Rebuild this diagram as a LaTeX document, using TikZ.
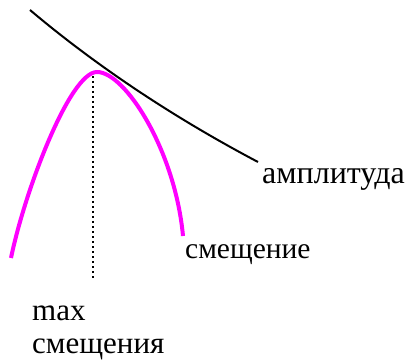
\documentclass[tikz,border=0pt]{standalone}
\usepackage{fontspec}
\setmainfont{LiberationSerif}[Extension=.ttf,UprightFont=*-Regular]
\definecolor{crvmag}{RGB}{255,0,255}

\begin{document}
\begin{tikzpicture}[
 x=1pt,y=-1pt,
 lbl/.style={anchor=base west,inner sep=0pt,font=\fontsize{31}{37}\selectfont},
 ampl/.style={line width=2pt,draw=black},
 disp/.style={line width=4pt,draw=crvmag},
 guide/.style={line width=1.7pt,dash pattern=on 1.7pt off 3.3pt}
]
\useasboundingbox (0,0) rectangle (406,363);
\coordinate (peak) at (93,76);
\coordinate (foot) at (93,278);
% amplitude envelope
\draw[ampl] (30,10) .. controls (75,48) and (150,105) .. (258,162);
% displacement
\draw[disp] (11,258) .. controls (25,190) and (70,72) .. (97,72)
 .. controls (125,72) and (175,150) .. (183,236);
\draw[guide] (peak) -- (foot);
\node[lbl,font=\fontsize{32}{38}\selectfont] (amp) at (262,183) {амплитуда};
\node[lbl,font=\fontsize{29.5}{35}\selectfont] (sm) at (185,258) {смещение};
\node[lbl] (mx) at (32,320) {max};
\node[lbl] (smx) at (32,353) {смещения};
\end{tikzpicture}
\end{document}
